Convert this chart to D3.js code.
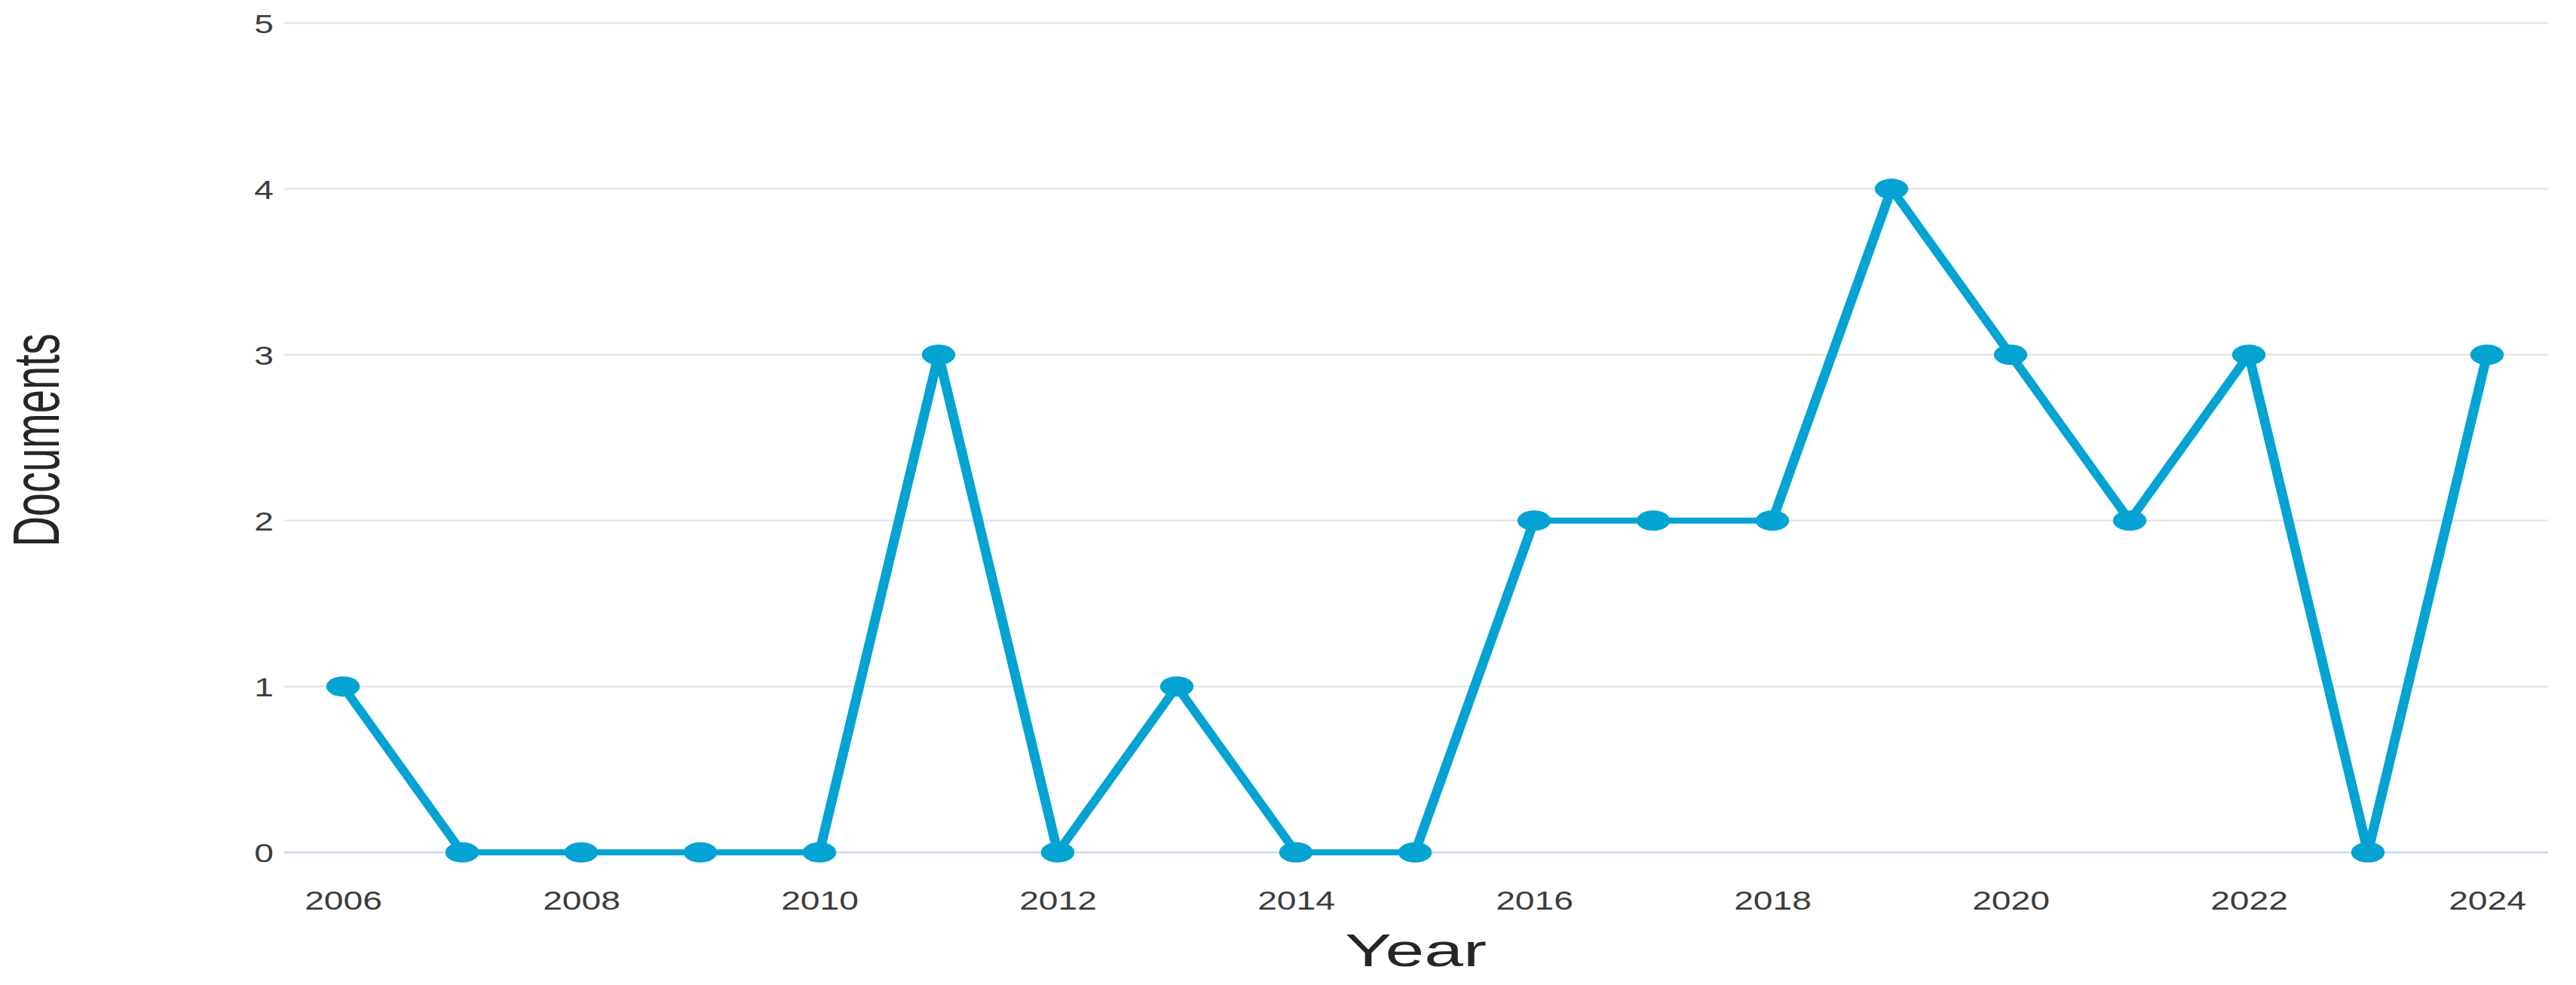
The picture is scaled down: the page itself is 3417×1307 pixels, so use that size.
<!DOCTYPE html>
<html>
<head>
<meta charset="utf-8">
<script src="https://cdn.jsdelivr.net/npm/d3@7"></script>
<style>
  html, body { margin: 0; padding: 0; background: #ffffff; }
  svg { display: block; }
  text { font-family: "Liberation Sans", Arial, Helvetica, sans-serif; }
</style>
</head>
<body>
<script>
const years = [2006, 2007, 2008, 2009, 2010, 2011, 2012, 2013, 2014, 2015, 2016, 2017, 2018, 2019, 2020, 2021, 2022, 2023, 2024];
const documents = [1, 0, 0, 0, 0, 3, 0, 1, 0, 0, 2, 2, 2, 4, 3, 2, 3, 0, 3];
const xTickLabels = [2006, 2008, 2010, 2012, 2014, 2016, 2018, 2020, 2022, 2024];
const yTickLabels = [0, 1, 2, 3, 4, 5];
const xTitle = "Year";
const yTitle = "Documents";

const W = 3417, H = 1307;
const SX = 1.65;      // horizontal stretch of the plotted marks
const TSX = 1.32;     // horizontal stretch of tick text
const plotLeft = 377, plotRight = 3380;
const xFirst = 455, xLast = 3299;
const yBottom = 1131, yTop = 30.5;

const svg = d3.select("body").append("svg")
  .attr("width", W).attr("height", H);

const x = d3.scaleLinear().domain([2006, 2024]).range([xFirst, xLast]);
const y = d3.scaleLinear().domain([0, 5]).range([yBottom, yTop]);

// gridlines
const grid = svg.append("g");
grid.selectAll("line").data(yTickLabels).join("line")
  .attr("x1", plotLeft).attr("x2", plotRight)
  .attr("y1", d => y(d)).attr("y2", d => y(d))
  .attr("stroke", d => d === 0 ? "#ccd6eb" : "#e6e6e6")
  .attr("stroke-width", 2.5);

// y tick labels
const yAxis = d3.axisLeft(y).tickValues(yTickLabels).tickSize(0).tickFormat(d3.format("d"));
const yg = svg.append("g").attr("transform", `translate(${plotLeft - 14},0)`).call(yAxis);
yg.select(".domain").remove();
yg.selectAll(".tick text")
  .attr("x", 0).attr("y", 0).attr("dy", "0.36em")
  .attr("font-size", 35).attr("fill", "#3d3d3d")
  .attr("text-anchor", "end")
  .attr("transform", `scale(${TSX},1)`)
  .attr("font-family", "'Liberation Sans', Arial, sans-serif");

// x tick labels
const xAxis = d3.axisBottom(x).tickValues(xTickLabels).tickSize(0).tickFormat(d3.format("d"));
const xg = svg.append("g").attr("transform", `translate(0,1207)`).call(xAxis);
xg.select(".domain").remove();
xg.selectAll(".tick text")
  .attr("y", 0).attr("dy", 0)
  .attr("font-size", 35).attr("fill", "#3d3d3d")
  .attr("transform", `scale(${TSX},1)`)
  .attr("font-family", "'Liberation Sans', Arial, sans-serif");

// axis titles
svg.append("text")
  .attr("transform", `translate(1878,1282) scale(1.5,1)`)
  .attr("text-anchor", "middle")
  .attr("font-size", 62).attr("fill", "#262626")
  .text(xTitle);

svg.append("text")
  .attr("transform", `translate(78,584) scale(1.55,1) rotate(-90)`)
  .attr("text-anchor", "middle")
  .attr("font-size", 56).attr("fill", "#262626")
  .text(yTitle);

// series, drawn in a horizontally stretched group
const xs = d3.scaleLinear().domain([2006, 2024]).range([xFirst / SX, xLast / SX]);
const series = svg.append("g").attr("transform", `scale(${SX},1)`);
const data = years.map((yr, i) => ({ year: yr, value: documents[i] }));

series.append("path")
  .datum(data)
  .attr("fill", "none")
  .attr("stroke", "#03a4d3")
  .attr("stroke-width", 8)
  .attr("stroke-linejoin", "round")
  .attr("stroke-linecap", "round")
  .attr("d", d3.line().x(d => xs(d.year)).y(d => y(d.value)));

series.selectAll("circle").data(data).join("circle")
  .attr("cx", d => xs(d.year))
  .attr("cy", d => y(d.value))
  .attr("r", 13.5)
  .attr("fill", "#03a4d3");
</script>
</body>
</html>
